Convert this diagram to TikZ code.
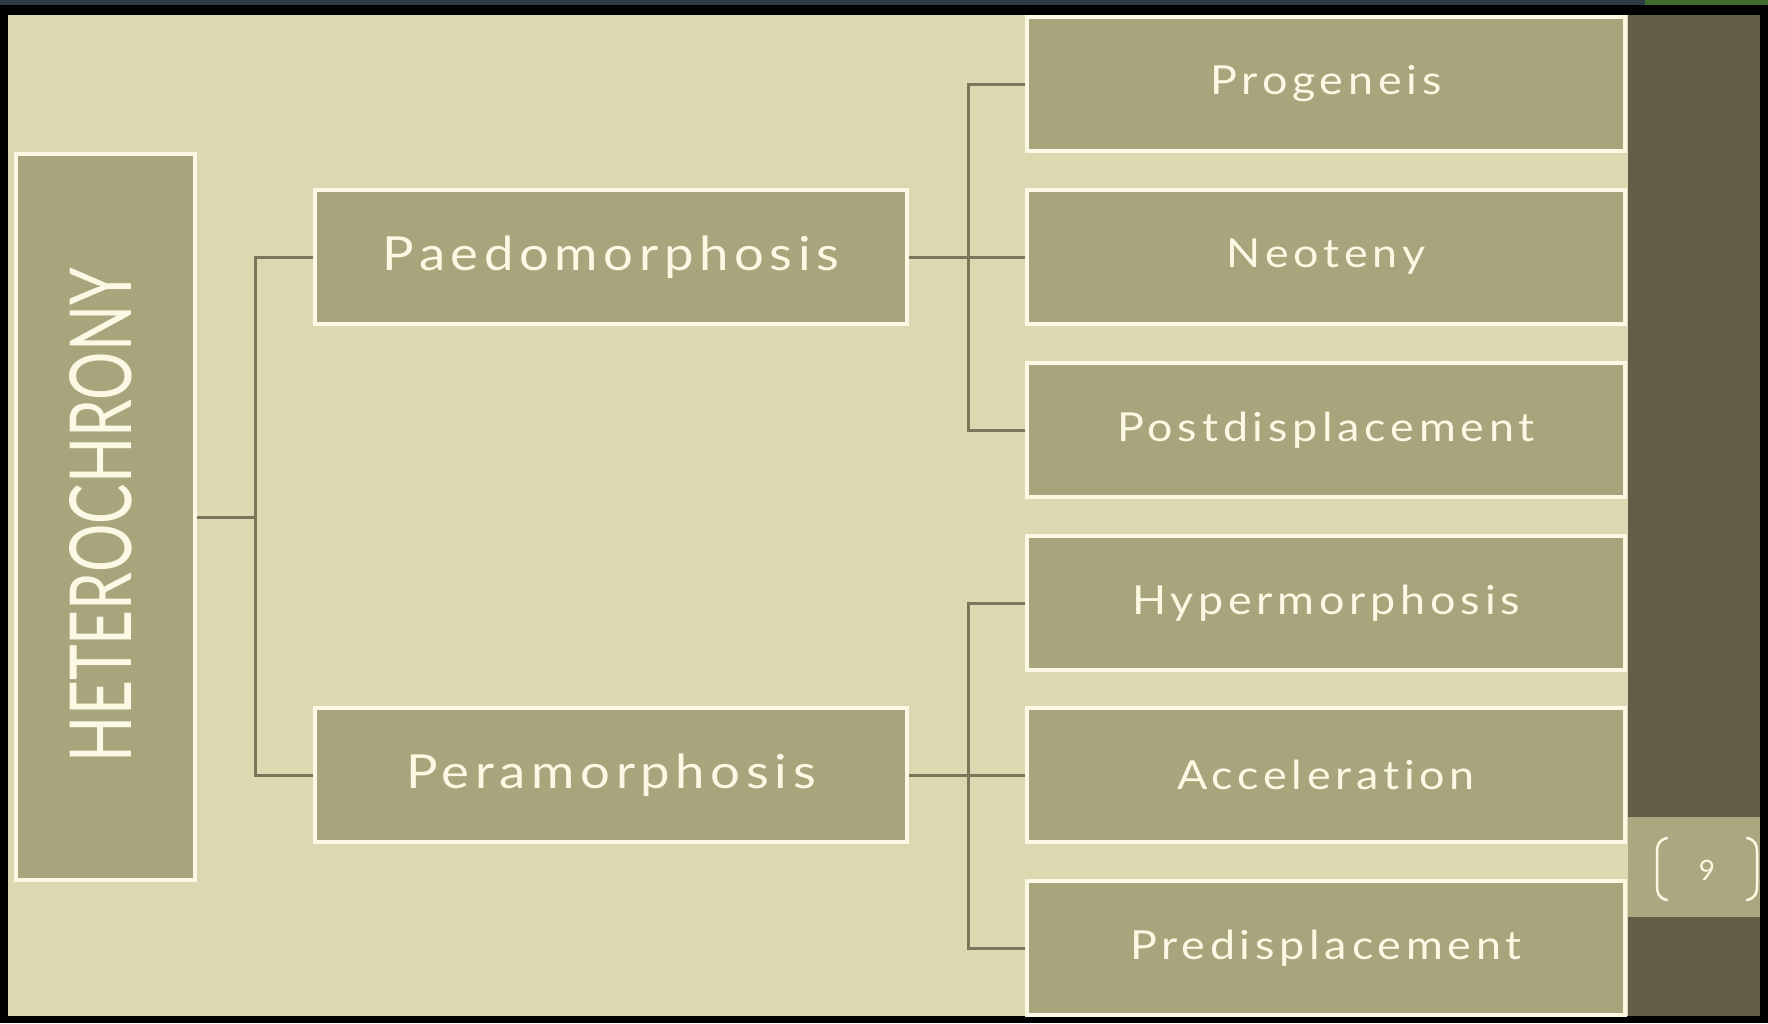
\documentclass[tikz,border=0pt]{standalone}
\usepackage{fontspec}
\newfontfamily\labfont[LetterSpace=12, FakeStretch=1.12, Ligatures=NoCommon]{Lato}
\newfontfamily\hetfont{Lato}
\definecolor{bglight}{HTML}{DCD9B2}
\definecolor{boxfill}{HTML}{A8A47C}
\definecolor{cream}{HTML}{FBF8E4}
\definecolor{linecol}{HTML}{7A7659}
\definecolor{panel}{HTML}{625D46}
\definecolor{slate}{HTML}{2B3A44}
\definecolor{topgreen}{HTML}{3F6B2B}
\tikzset{
  box/.style={draw=cream, line width=4pt, fill=boxfill, text=cream, inner sep=0pt},
  bigbox/.style={box, minimum width=592pt, minimum height=134pt, font=\labfont\fontsize{47}{49}\selectfont},
  smallbox/.style={box, minimum width=598pt, minimum height=134pt, font=\labfont\fontsize{40}{42}\selectfont},
  conn/.style={draw=linecol, line width=3pt}
}
\begin{document}
\begin{tikzpicture}[x=1pt,y=-1pt]
\useasboundingbox (0,0) rectangle (1768,1023);
% frame and background
\fill[black] (0,0) rectangle (1768,1023);
\fill[slate] (0,0) rectangle (1768,5);
\fill[topgreen] (1645,0) rectangle (1768,5);
\fill[bglight] (8,15) rectangle (1760,1016);
\fill[panel] (1628,15) rectangle (1760,1016);
\fill[boxfill!97!white] (1628,817) rectangle (1760,917);
\node[text=cream, font=\hetfont\fontsize{28}{30}\selectfont] (pagenum) at (1707,870) {9};
\draw[cream, line width=2.5pt, line cap=round] (1667,838) .. controls (1658,840) and (1657,846) .. (1657,852) -- (1657,886) .. controls (1657,892) and (1658,898) .. (1667,900);
\draw[cream, line width=2.5pt, line cap=round] (1747,838) .. controls (1756,840) and (1757,846) .. (1757,852) -- (1757,886) .. controls (1757,892) and (1756,898) .. (1747,900);
\begin{scope}
\clip (8,15) rectangle (1760,1016);
% root
\node[box, minimum width=179pt, minimum height=726pt] (het) at (105.5,517) {};
\node[text=cream, rotate=90, inner sep=0pt] (hettext) at (101,515) {\resizebox{494pt}{62pt}{\hetfont HETEROCHRONY}};
% level 1
\node[bigbox] (paed) at (611,257) {Paedomorphosis};
\node[bigbox] (peram) at (611,775) {Peramorphosis};
% level 2
\node[smallbox] (prog) at (1326,84) {Progeneis};
\node[smallbox] (neo) at (1326,257) {Neoteny};
\node[smallbox] (post) at (1326,430) {Postdisplacement};
\node[smallbox] (hyper) at (1326,603) {Hypermorphosis};
\node[smallbox] (acc) at (1326,775) {Acceleration};
\node[smallbox] (pred) at (1326,948) {Predisplacement};
% junctions
\coordinate (j1) at (255,517);
\coordinate (j2) at (968,257);
\coordinate (j3) at (968,775);
% connectors
\draw[conn] (het.east) -- (j1);
\draw[conn] (paed.west) -| (j1);
\draw[conn] (peram.west) -| (j1);
\draw[conn] (paed.east) -- (j2) -- (neo.west);
\draw[conn] (prog.west) -| (j2);
\draw[conn] (post.west) -| (j2);
\draw[conn] (peram.east) -- (j3) -- (acc.west);
\draw[conn] (hyper.west) -| (j3);
\draw[conn] (pred.west) -| (j3);
\end{scope}
\end{tikzpicture}
\end{document}
